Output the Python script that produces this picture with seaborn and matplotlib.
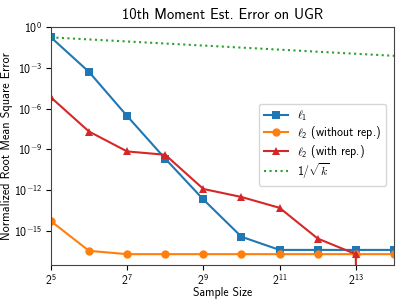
import matplotlib
matplotlib.use("Agg")
import matplotlib.pyplot as plt
import seaborn as sns
import numpy as np
import pandas as pd

sample_sizes = [32, 64, 128, 256, 512, 1024, 2048, 4096, 8192, 16384]
l1_err = [1.8e-1, 5.1e-4, 2.9e-7, 2.1e-10, 2.1e-13, 3.8e-16, 4.1e-17, 4.1e-17, 4.1e-17, 4.1e-17]
l2_norep_err = [5.4e-15, 3.5e-17, 2.0e-17, 2.0e-17, 2.0e-17, 2.0e-17, 2.0e-17, 2.0e-17, 2.0e-17, 2.0e-17]
l2_rep_err = [6.8e-6, 2.1e-8, 7.2e-10, 4.1e-10, 1.25e-12, 3.2e-13, 5.1e-14, 2.8e-16, 2.0e-17, 0.0]
inv_sqrt_k = [0.1768, 0.1250, 0.0884, 0.0625, 0.0442, 0.03125, 0.0221, 0.0156, 0.0110, 0.0078]

labels = [r"$\ell_1$", r"$\ell_2$ (without rep.)", r"$\ell_2$ (with rep.)", r"$1/\sqrt{k}$"]
xtick_vals = [32, 128, 512, 2048, 8192]
xtick_labels = [r"$2^{5}$", r"$2^{7}$", r"$2^{9}$", r"$2^{11}$", r"$2^{13}$"]
ytick_vals = [1e0, 1e-3, 1e-6, 1e-9, 1e-12, 1e-15]
ytick_labels = [r"$10^{0}$", r"$10^{-3}$", r"$10^{-6}$", r"$10^{-9}$", r"$10^{-12}$", r"$10^{-15}$"]

plt.rcParams["font.family"] = ["cmss10", "DejaVu Sans"]
plt.rcParams["mathtext.fontset"] = "custom"
plt.rcParams["mathtext.rm"] = "cmss10"
plt.rcParams["mathtext.sf"] = "cmss10"
plt.rcParams["mathtext.it"] = "cmmi10"
plt.rcParams["mathtext.bf"] = "cmss10"
plt.rcParams["axes.unicode_minus"] = False

fig, ax = plt.subplots(figsize=(4.07, 3.05), dpi=100)
fig.subplots_adjust(left=0.125, right=0.968, top=0.911, bottom=0.131)

colors = ["#1f77b4", "#ff7f0e", "#d62728", "#2ca02c"]
series = [l1_err, l2_norep_err, l2_rep_err]
markers = ["s", "o", "^"]
for vals, lab, col, mk in zip(series, labels[:3], colors[:3], markers):
    df = pd.DataFrame({"k": sample_sizes, "err": vals})
    sns.lineplot(data=df, x="k", y="err", ax=ax, color=col, marker=mk,
                 markersize=6, markeredgewidth=0, linewidth=1.5, label=lab,
                 estimator=None)
df = pd.DataFrame({"k": sample_sizes, "err": inv_sqrt_k})
sns.lineplot(data=df, x="k", y="err", ax=ax, color=colors[3], linestyle=":",
             linewidth=1.5, label=labels[3], estimator=None)

ax.set_xscale("log", base=2)
ax.set_yscale("log")
ax.set_xlim(32, 16384)
ax.set_ylim(10**-17.5, 1e0)
ax.set_xticks(xtick_vals)
ax.set_xticklabels(xtick_labels)
ax.xaxis.set_minor_locator(matplotlib.ticker.NullLocator())
ax.set_yticks(ytick_vals)
ax.set_yticklabels(ytick_labels)
ax.yaxis.set_minor_locator(matplotlib.ticker.NullLocator())
ax.tick_params(labelsize=8.5, pad=2.5)
for s in ax.spines.values():
    s.set_color("#444444")
ax.set_title("10th Moment Est. Error on UGR", fontsize=10.5)
ax.set_xlabel("Sample Size", fontsize=8.5)
ax.set_ylabel("Normalized Root Mean Square Error", fontsize=8.8)
ax.yaxis.set_label_coords(-0.11, 0.5)
ax.xaxis.set_label_coords(0.5, -0.092)
ax.legend(loc="center right", fontsize=8.5, labelspacing=0.1,
          borderpad=0.45, bbox_to_anchor=(0.995, 0.505))
fig.savefig("out.png", dpi=100)
